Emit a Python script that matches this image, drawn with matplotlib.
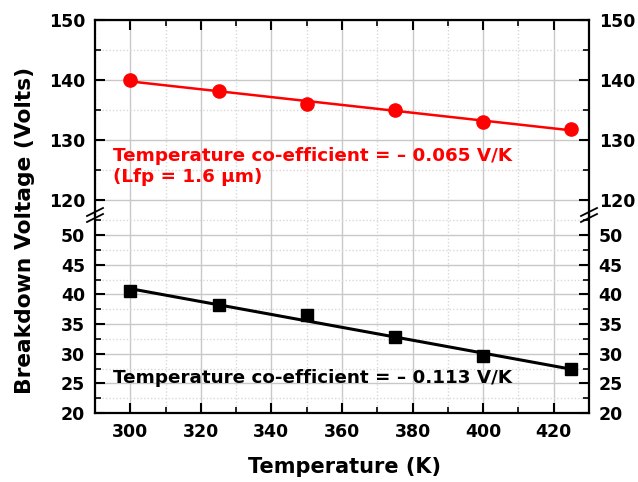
import numpy as np
import matplotlib
matplotlib.use("Agg")
import matplotlib.pyplot as plt
from matplotlib.ticker import MultipleLocator
from matplotlib.lines import Line2D

plt.rcParams["font.family"] = ["DejaVu Sans"]
plt.rcParams["font.weight"] = "bold"
plt.rcParams["xtick.direction"] = "in"
plt.rcParams["ytick.direction"] = "in"

temperature = [300, 325, 350, 375, 400, 425]
vbd_lfp = [140.0, 138.2, 136.0, 135.0, 133.0, 131.9]
vbd_base = [40.5, 38.2, 36.5, 32.8, 29.6, 27.4]

label_lfp = "Temperature co-efficient = \u2013 0.065 V/K\n(Lfp = 1.6 \u03bcm)"
label_base = "Temperature co-efficient = \u2013 0.113 V/K"

fig = plt.figure(figsize=(6.38, 4.82), dpi=100)
W, H = 638, 482
x0, x1 = 95, 589
y_top, y_brk, y_bot = 20, 215, 413

ax_top = fig.add_axes([x0 / W, 1 - y_brk / H, (x1 - x0) / W, (y_brk - y_top) / H])
ax_bot = fig.add_axes([x0 / W, 1 - y_bot / H, (x1 - x0) / W, (y_bot - y_brk) / H])

xfit = np.array([300, 425])

for ax in (ax_top, ax_bot):
    ax.set_xlim(290, 430)
    ax.xaxis.set_major_locator(MultipleLocator(20))
    ax.xaxis.set_minor_locator(MultipleLocator(10))
    ax.grid(which="major", color="#c8c8c8", lw=1.0, ls="-", zorder=0)
    ax.grid(which="minor", color="#d8d8d8", lw=1.0, ls=(0, (1, 1.5)), zorder=0)
    ax.set_axisbelow(True)
    ax.tick_params(which="major", length=7, width=1.5, labelsize=12.5, pad=7,
                   left=True, right=True, labelleft=True, labelright=True)
    ax.tick_params(which="minor", length=4, width=1.2, left=True, right=True)
    for s in ax.spines.values():
        s.set_linewidth(1.6)

# top panel
ax_top.set_ylim(117.5, 150)
ax_top.set_yticks([120, 130, 140, 150])
ax_top.yaxis.set_minor_locator(MultipleLocator(5))
ax_top.spines["bottom"].set_visible(False)
ax_top.tick_params(which="both", bottom=False, top=True, labelbottom=False)

k, b = np.polyfit(temperature, vbd_lfp, 1)
ax_top.plot(xfit, k * xfit + b, color="#ff0000", lw=1.8, zorder=3)
ax_top.plot(temperature, vbd_lfp, "o", color="#ff0000", ms=9.5, zorder=4)
ax_top.text((113 - x0) / (x1 - x0), (y_brk - 166.5) / (y_brk - y_top), label_lfp,
            transform=ax_top.transAxes, color="#ff0000", fontsize=13.2,
            fontweight="bold", va="center", ha="left", linespacing=1.2)

# bottom panel
ax_bot.set_ylim(20, 20 + (y_bot - y_brk) / 5.933)
ax_bot.set_yticks([20, 25, 30, 35, 40, 45, 50])
ax_bot.yaxis.set_minor_locator(MultipleLocator(2.5))
ax_bot.spines["top"].set_visible(False)
ax_bot.tick_params(which="both", top=False, bottom=True)

k2, b2 = np.polyfit(temperature, vbd_base, 1)
ax_bot.plot(xfit, k2 * xfit + b2, color="black", lw=2.2, zorder=3)
ax_bot.plot(temperature, vbd_base, "s", color="black", ms=9, zorder=4)
ax_bot.text((113 - x0) / (x1 - x0), (y_bot - 378) / (y_bot - y_brk), label_base,
            transform=ax_bot.transAxes, color="black", fontsize=13.2,
            fontweight="bold", va="center", ha="left")

# break marks on both spines
for xp in (x0, x1):
    for dy in (-3, 3):
        fig.add_artist(Line2D([(xp - 8) / W, (xp + 8) / W],
                              [1 - (y_brk + dy + 4) / H, 1 - (y_brk + dy - 4) / H],
                              color="black", lw=1.3))

fig.text(25 / W, 1 - 230 / H, "Breakdown Voltage (Volts)",
         rotation=90, ha="center", va="center", fontsize=15.7, fontweight="bold")
fig.text(345 / W, 1 - 467 / H, "Temperature (K)",
         ha="center", va="center", fontsize=15, fontweight="bold")

fig.savefig("out.png", dpi=100)
